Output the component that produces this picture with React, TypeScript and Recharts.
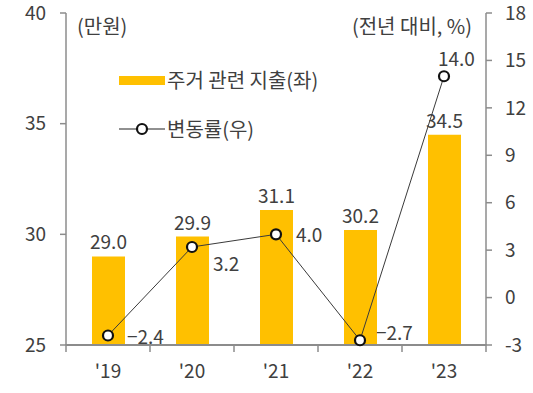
import {
  Bar,
  ComposedChart,
  LabelList,
  Line,
  XAxis,
  YAxis,
} from "recharts";

const years = ["'19", "'20", "'21", "'22", "'23"];
const spending = [29.0, 29.9, 31.1, 30.2, 34.5];
const changeRate = [-2.4, 3.2, 4.0, -2.7, 14.0];
const leftTicks = [25, 30, 35, 40];
const rightTicks = [-3, 0, 3, 6, 9, 12, 15, 18];

const data = years.map((year, i) => ({
  year,
  spending: spending[i],
  change: changeRate[i],
}));

const FONT = "'Noto Sans CJK KR', 'Noto Sans', sans-serif";
const AXIS = "#8c8c8c";
const TEXT = "#404040";
const GOLD = "#FFC000";
const NUM = 19;

const fmt = (v: number) => (v < 0 ? "\u2212" + Math.abs(v).toFixed(1) : v.toFixed(1));

// where each change-rate label sits, relative to its dot
const lineLabelOffset = [
  { dx: 19, dy: 8 },
  { dx: 21, dy: 24 },
  { dx: 20, dy: 8 },
  { dx: 16, dy: 0 },
  { dx: -6, dy: -10 },
];

function LineLabel(props: any) {
  const { x, y, index, value } = props;
  const o = lineLabelOffset[index];
  return (
    <text x={x + o.dx} y={y + o.dy} textAnchor="start" fill={TEXT} fontSize={NUM} fontFamily={FONT}>
      {fmt(value)}
    </text>
  );
}

function YearTick(props: any) {
  const { x, y, payload, index } = props;
  const half = payload.offset || 42;
  return (
    <g>
      <line x1={x - half} y1={y - 9} x2={x - half} y2={y - 1} stroke={AXIS} strokeWidth={1.5} />
      {index === years.length - 1 && (
        <line x1={x + half} y1={y - 9} x2={x + half} y2={y - 1} stroke={AXIS} strokeWidth={1.5} />
      )}
      <text x={x} y={y + 25} textAnchor="middle" fill={TEXT} fontSize={NUM} fontFamily={FONT}>
        {payload.value}
      </text>
    </g>
  );
}

function LegendBox() {
  const row = { display: "flex", alignItems: "center", height: 24, position: "absolute" as const, left: 0 };
  return (
    <div style={{ position: "absolute", left: 119, top: 68, fontFamily: FONT, fontSize: 20, color: TEXT, lineHeight: "24px" }}>
      <div style={{ ...row, top: 0, whiteSpace: "nowrap" }}>
        <span style={{ width: 46, height: 9, background: GOLD, display: "inline-block", marginRight: 2 }} />
        주거 관련 지출(좌)
      </div>
      <div style={{ ...row, top: 49, whiteSpace: "nowrap" }}>
        <svg width={46} height={14} style={{ marginRight: 2 }}>
          <line x1={0} y1={7} x2={46} y2={7} stroke="#222" strokeWidth={1.2} />
          <circle cx={23} cy={7} r={5} fill="#fff" stroke="#111" strokeWidth={2.2} />
        </svg>
        변동률(우)
      </div>
    </div>
  );
}

export default function App() {
  return (
    <div style={{ position: "absolute", top: 0, left: 0, width: 533, height: 393, background: "#fff" }}>
      <ComposedChart
        width={533}
        height={393}
        data={data}
        margin={{ top: 13, right: 5, left: 8, bottom: 18 }}
      >
        <XAxis
          dataKey="year"
          height={30}
          stroke={AXIS}
          axisLine={{ stroke: AXIS, strokeWidth: 2 }}
          tickLine={false}
          tick={<YearTick />}
          interval={0}
        />
        <YAxis
          yAxisId="left"
          domain={[25, 40]}
          ticks={leftTicks}
          width={58}
          axisLine={{ stroke: AXIS, strokeWidth: 1.5 }}
          tickLine={{ stroke: AXIS, strokeWidth: 1.5 }}
          tickSize={6}
          tickMargin={14}
          tick={{ fill: TEXT, fontSize: NUM, fontFamily: FONT }}
        />
        <YAxis
          yAxisId="right"
          orientation="right"
          domain={[-3, 18]}
          ticks={rightTicks}
          width={42}
          axisLine={{ stroke: AXIS, strokeWidth: 1.5 }}
          tickLine={{ stroke: AXIS, strokeWidth: 1.5 }}
          tickSize={6}
          tickMargin={13}
          tick={{ fill: TEXT, fontSize: NUM, fontFamily: FONT }}
        />
        <Bar yAxisId="left" dataKey="spending" fill={GOLD} barSize={33} isAnimationActive={false}>
          <LabelList
            dataKey="spending"
            position="top"
            offset={7}
            formatter={(v: any) => Number(v).toFixed(1)}
            style={{ fill: TEXT, fontSize: NUM, fontFamily: FONT }}
          />
        </Bar>
        <Line
          yAxisId="right"
          dataKey="change"
          stroke="#3a3a3a"
          strokeWidth={1}
          dot={{ r: 5, fill: "#fff", stroke: "#111", strokeWidth: 2.2 }}
          isAnimationActive={false}
        >
          <LabelList dataKey="change" content={<LineLabel />} />
        </Line>
      </ComposedChart>
      <div style={{ position: "absolute", left: 77, top: 12, fontFamily: FONT, fontSize: 20, color: TEXT, lineHeight: "28px" }}>
        (만원)
      </div>
      <div style={{ position: "absolute", right: 61, top: 12, fontFamily: FONT, fontSize: 20, color: TEXT, lineHeight: "28px", whiteSpace: "nowrap" }}>
        (전년 대비, %)
      </div>
      <LegendBox />
    </div>
  );
}
